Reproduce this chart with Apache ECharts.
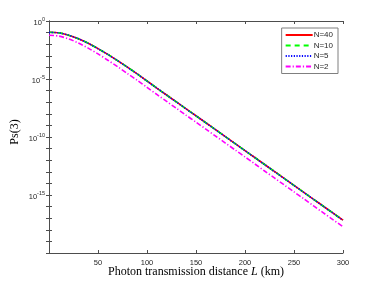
<!DOCTYPE html>
<html><head><meta charset="utf-8">
<script src="https://cdn.jsdelivr.net/npm/echarts@6/dist/echarts.min.js"></script>
<style>html,body{margin:0;padding:0;background:#fff}#c{width:379px;height:285px}</style>
</head><body><div id="c"></div>
<script>
const distances = [0,10,20,30,40,50,60,70,80,90,100,110,120,130,140,150,160,170,180,190,200,210,220,230,240,250,260,270,280,290,300];
const seriesNames = ['N=40','N=10','N=5','N=2'];
const psN40 = [1.07e-1,9.55e-2,6.03e-2,2.95e-2,1.20e-2,4.17e-3,1.32e-3,3.80e-4,1.05e-4,2.75e-5,6.76e-6,1.66e-6,4.17e-7,1.05e-7,2.63e-8,6.76e-9,1.70e-9,4.27e-10,1.07e-10,2.69e-11,6.76e-12,1.70e-12,4.27e-13,1.07e-13,2.69e-14,6.76e-15,1.70e-15,4.27e-16,1.07e-16,2.69e-17,6.76e-18];
const psN10 = [1.07e-1,9.54e-2,6.02e-2,2.95e-2,1.20e-2,4.16e-3,1.32e-3,3.79e-4,1.05e-4,2.74e-5,6.75e-6,1.66e-6,4.16e-7,1.05e-7,2.63e-8,6.75e-9,1.70e-9,4.26e-10,1.07e-10,2.68e-11,6.75e-12,1.70e-12,4.26e-13,1.07e-13,2.68e-14,6.75e-15,1.70e-15,4.26e-16,1.07e-16,2.68e-17,6.75e-18];
const psN5  = [1.06e-1,9.45e-2,5.96e-2,2.91e-2,1.18e-2,4.10e-3,1.30e-3,3.74e-4,1.03e-4,2.70e-5,6.65e-6,1.63e-6,4.10e-7,1.03e-7,2.59e-8,6.65e-9,1.67e-9,4.20e-10,1.05e-10,2.64e-11,6.65e-12,1.67e-12,4.20e-13,1.05e-13,2.64e-14,6.65e-15,1.67e-15,4.20e-16,1.05e-16,2.64e-17,6.65e-18];
const psN2  = [5.89e-2,5.01e-2,2.88e-2,1.26e-2,4.57e-3,1.45e-3,4.17e-4,1.15e-4,2.95e-5,7.76e-6,1.91e-6,4.68e-7,1.17e-7,2.95e-8,7.41e-9,1.91e-9,4.79e-10,1.20e-10,3.02e-11,7.59e-12,1.91e-12,4.79e-13,1.17e-13,2.95e-14,7.41e-15,1.86e-15,4.68e-16,1.15e-16,2.88e-17,7.24e-18,1.82e-18];
const xTicks = [50,100,150,200,250,300];
const yLabelExps = [0,-5,-10,-15];

const seriesData = [psN40, psN10, psN5, psN2];
const colors = ['#ff0000','#00ff00','#0000ff','#ff00ff'];
const dashes = ['solid',[5,4],[1.2,1.5],[5,2,1.2,2]];
const axisColor = '#4d4d4d';
const txt = '#262626';

const chart = echarts.init(document.getElementById('c'), null, {renderer:'canvas'});

function yLabel(v){
  const e = Math.round(Math.log10(v));
  if (yLabelExps.indexOf(e) < 0) return '';
  return '{b|10}{s|' + e + '}';
}
const yRich = {
  b:{fontSize:7.5, fontFamily:'Liberation Sans', color:txt, padding:[3,0,0,0]},
  s:{fontSize:5.5, fontFamily:'Liberation Sans', color:txt, padding:[0,0,4,0]}
};

const baseY = {
  type:'log', logBase:10, min:1e-20, max:1, interval:1,
  axisLine:{show:true, lineStyle:{color:axisColor, width:1}},
  axisTick:{show:true, inside:true, length:3, lineStyle:{color:axisColor}},
  splitLine:{show:false}
};
const baseX = {
  type:'value', min:0, max:300, interval:50,
  axisLine:{show:true, onZero:false, lineStyle:{color:axisColor, width:1}},
  axisTick:{show:true, inside:true, length:3, lineStyle:{color:axisColor}},
  splitLine:{show:false}
};

chart.setOption({
  animation:false,
  backgroundColor:'#fff',
  grid:{left:49, right:36, top:21, bottom:32, containLabel:false, outerBoundsMode:'none'},
  xAxis:[
    Object.assign({}, baseX, {
      position:'bottom',
      axisLabel:{show:true, fontSize:7.5, fontFamily:'Liberation Sans', color:txt, margin:6,
        showMinLabel:false, formatter:function(v){return xTicks.indexOf(v)>=0 ? String(v) : '';}},
      name:'{t|Photon transmission distance }{i|L}{t| (km)}',
      nameLocation:'middle', nameGap:13, nameMoveOverlap:false,
      nameTextStyle:{rich:{
        t:{fontSize:12, fontFamily:'Liberation Serif', color:'#000'},
        i:{fontSize:12, fontFamily:'Liberation Serif', fontStyle:'italic', color:'#000'}
      }}
    }),
    Object.assign({}, baseX, {position:'top', axisLabel:{show:false}})
  ],
  yAxis:[
    Object.assign({}, baseY, {
      position:'left',
      axisLabel:{show:true, formatter:yLabel, rich:yRich, margin:4},
      name:'Ps(3)', nameLocation:'middle', nameGap:28, nameRotate:90, nameMoveOverlap:false,
      nameTextStyle:{fontSize:12, fontFamily:'Liberation Serif', color:'#000', padding:[0,0,0,10]}
    }),
    Object.assign({}, baseY, {position:'right', axisLabel:{show:false}})
  ],
  legend:{
    orient:'vertical', right:41, top:28,
    itemWidth:27, itemHeight:8, itemGap:2.5,
    padding:[3,5,3,3],
    backgroundColor:'#fff', borderColor:'#7f7f7f', borderWidth:1, borderRadius:0,
    itemStyle:{opacity:0},
    textStyle:{fontSize:8, fontFamily:'Liberation Sans', color:txt, padding:[0,0,0,-4]},
    data:seriesNames
  },
  series: seriesNames.map(function(n,i){
    return {
      name:n, type:'line', xAxisIndex:0, yAxisIndex:0,
      data: distances.map(function(d,k){return [d, seriesData[i][k]];}),
      smooth:0.3, symbol:'none', showSymbol:false,
      lineStyle:{color:colors[i], width:1.6, type:dashes[i]},
      itemStyle:{color:colors[i]},
      z:2+i
    };
  })
});
</script></body></html>
